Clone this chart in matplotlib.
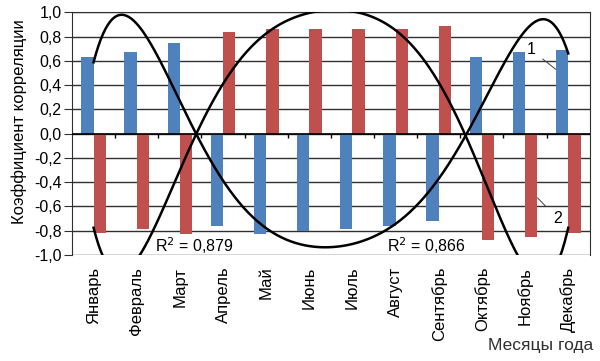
import numpy as np
import matplotlib.pyplot as plt

plt.rcParams['font.family'] = ['Liberation Sans', 'DejaVu Sans']

# -----------------------------
# Data
# -----------------------------
months = ["Январь", "Февраль", "Март", "Апрель", "Май", "Июнь",
          "Июль", "Август", "Сентябрь", "Октябрь", "Ноябрь", "Декабрь"]
series1 = [0.63, 0.67, 0.75, -0.76, -0.83, -0.80,
           -0.79, -0.76, -0.72, 0.63, 0.67, 0.69]
series2 = [-0.82, -0.79, -0.83, 0.84, 0.86, 0.86,
           0.86, 0.86, 0.89, -0.88, -0.85, -0.82]
r2_labels = ["R$^2$ = 0,879", "R$^2$ = 0,866"]
poly_degree = 6  # Excel polynomial trend line

x = np.arange(1, len(months) + 1)
w = 1 / 3.5  # Excel gap width 150 %

fig = plt.figure(figsize=(6, 3.61), dpi=100)
ax = fig.add_axes([0.12, 0.294, 0.863, 0.672])

ax.bar(x - w / 2, series1, width=w, color="#4F81BD", zorder=2)
ax.bar(x + w / 2, series2, width=w, color="#C0504D", zorder=2)

# polynomial trend lines
xs = np.linspace(1, 12, 400)
for s in (series1, series2):
    coef = np.polyfit(x, s, poly_degree)
    ax.plot(xs, np.polyval(coef, xs), color="black", lw=1.8, zorder=3)

ax.set_xlim(0.5, 12.5)
ax.set_ylim(-1.0, 1.0)
yt = np.arange(-1.0, 1.01, 0.2)
ax.set_yticks(yt)
ax.set_yticklabels([f"{v:.1f}".replace(".", ",").replace("-0,0", "0,0")
                    for v in yt], fontsize=11.5)
ax.yaxis.grid(True, color="#303030", lw=1.0, zorder=0)
ax.tick_params(axis="y", length=6, color="#303030", pad=1.5)

ax.set_xticks(x)
ax.set_xticklabels(months, rotation=90, fontsize=12, va="top")
ax.tick_params(axis="x", length=0, pad=8.5)

# zero axis with category boundary ticks
ax.axhline(0, color="black", lw=1.2, zorder=4)
ax.vlines(x[:-1] + 0.5, -0.035, 0, color="black", lw=1.0, zorder=4)

for sp in ("top", "right", "left"):
    ax.spines[sp].set_color("#303030")
ax.spines["bottom"].set_visible(False)

ax.text(3.34, -0.92, r2_labels[0], fontsize=11.5, ha="center", va="center")
ax.text(8.71, -0.92, r2_labels[1], fontsize=11.5, ha="center", va="center")

ax.annotate("1", xy=(11.71, 0.53), xytext=(11.14, 0.69), fontsize=11.5,
            ha="center", va="center",
            arrowprops=dict(arrowstyle="-", color="#404040", lw=0.7,
                            shrinkA=4, shrinkB=0))
ax.annotate("2", xy=(11.29, -0.53), xytext=(11.75, -0.70), fontsize=11.5,
            ha="center", va="center",
            arrowprops=dict(arrowstyle="-", color="#404040", lw=0.7,
                            shrinkA=5, shrinkB=0))

fig.text(19.5 / 600, 1 - 121.5 / 361, "Коэффициент корреляции", fontsize=12,
         rotation=90, ha="center", va="center")
fig.text(0.988, 0.022, "Месяцы года", fontsize=12.5, ha="right", va="bottom",
         color="#303030")

fig.savefig("out.png", dpi=100)
